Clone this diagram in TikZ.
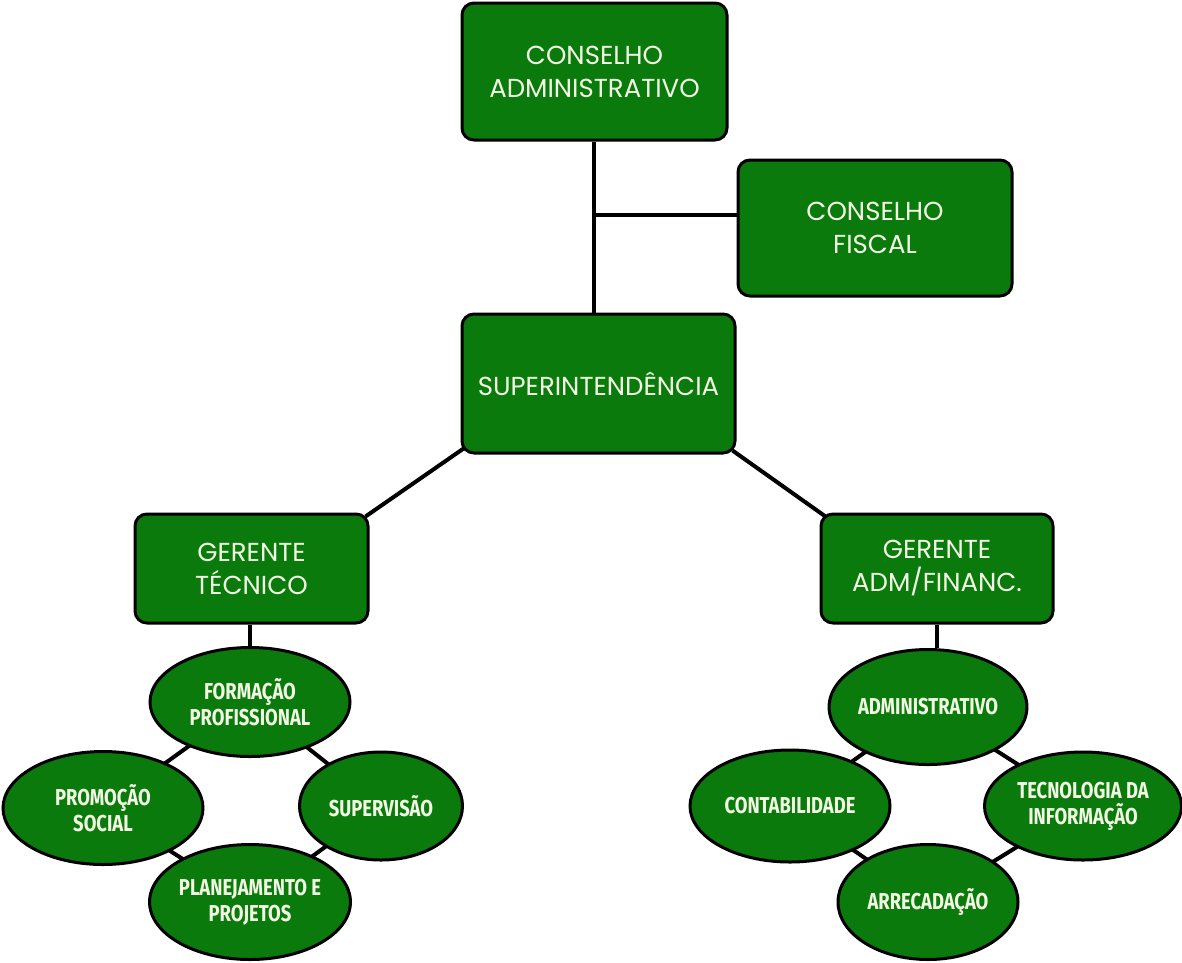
\documentclass[tikz,border=0pt]{standalone}
\usepackage{fontspec}
\usepackage{graphicx}
\setmainfont{Poppins}
\newfontfamily\ellfont{Fira Sans}
\usetikzlibrary{shapes.geometric,backgrounds}
\definecolor{boxgreen}{RGB}{10,122,12}
\definecolor{txtcream}{RGB}{242,250,228}
\tikzset{
  x=1pt,y=-1pt,
  box/.style={draw=black,line width=3pt,fill=boxgreen,rounded corners=12pt,
    text=txtcream,align=center,font=\fontsize{26}{33}\selectfont,inner sep=0pt},
  oval/.style={ellipse,draw=black,line width=3pt,fill=boxgreen,text=txtcream,
    align=center,inner sep=0pt,font=\ellfont\bfseries\fontsize{23}{26}\selectfont},
  link/.style={draw=black,line width=4pt}
}
\newcommand{\cond}[1]{\scalebox{0.8}[1]{#1}}
\begin{document}
\begin{tikzpicture}
\useasboundingbox (0,0) rectangle (1182,962);
% boxes
\node[box,minimum width=265pt,minimum height=137pt] (ca) at (594.5,71.5) {CONSELHO\\ADMINISTRATIVO};
\node[box,minimum width=274pt,minimum height=136pt] (cf) at (875,228) {CONSELHO\\FISCAL};
\node[box,minimum width=273pt,minimum height=139pt] (sup) at (598.5,383.5) {SUPERINTENDÊNCIA};
\node[box,minimum width=233pt,minimum height=109pt] (gt) at (251.5,568.5) {GERENTE\\TÉCNICO};
\node[box,minimum width=232pt,minimum height=109pt] (ga) at (937,568.5) {GERENTE\\ADM/FINANC.};
% left ellipses
\node[oval,minimum width=200pt,minimum height=109pt] (form) at (250,702) {\cond{FORMAÇÃO}\\\cond{PROFISSIONAL}};
\node[oval,minimum width=200pt,minimum height=113pt] (prom) at (103,808) {\cond{PROMOÇÃO}\\\cond{SOCIAL}};
\node[oval,minimum width=163pt,minimum height=108pt] (superv) at (381,806) {\cond{SUPERVISÃO}};
\node[oval,minimum width=200pt,minimum height=115pt] (plan) at (250,902) {\cond{PLANEJAMENTO E}\\\cond{PROJETOS}};
% right ellipses
\node[oval,minimum width=180pt,minimum height=115pt] (adm) at (928,707) {\cond{ADMINISTRATIVO}};
\node[oval,minimum width=200pt,minimum height=112pt] (cont) at (790,806) {\cond{CONTABILIDADE}};
\node[oval,minimum width=197pt,minimum height=108pt] (tec) at (1083,806) {\cond{TECNOLOGIA DA}\\\cond{INFORMAÇÃO}};
\node[oval,minimum width=180pt,minimum height=115pt] (arr) at (928,902) {\cond{ARRECADAÇÃO}};
\coordinate (j) at (594,215);
\begin{scope}[on background layer]
\fill[white] (0,0) rectangle (1182,962);
\draw[link] (ca.south -| j) -- (j |- sup.north);
\draw[link] (j) -- (j -| cf.west);
\draw[link] ([xshift=6pt,yshift=8pt]sup.south west) -- ([xshift=-4pt,yshift=-4pt]gt.north east);
\draw[link] ([xshift=-4pt,yshift=4pt]sup.south east) -- ([xshift=6pt,yshift=-4pt]ga.north west);
\draw[link] (gt.south -| form.north) -- (form.north);
\draw[link] (ga.south) -- (ga.south |- adm.north);
\draw[link] (form.center) -- (prom.center) -- (plan.center) -- (superv.center) -- (form.center);
\draw[link] (adm.center) -- (cont.center) -- (arr.center) -- (tec.center) -- (adm.center);
\end{scope}
\end{tikzpicture}
\end{document}
